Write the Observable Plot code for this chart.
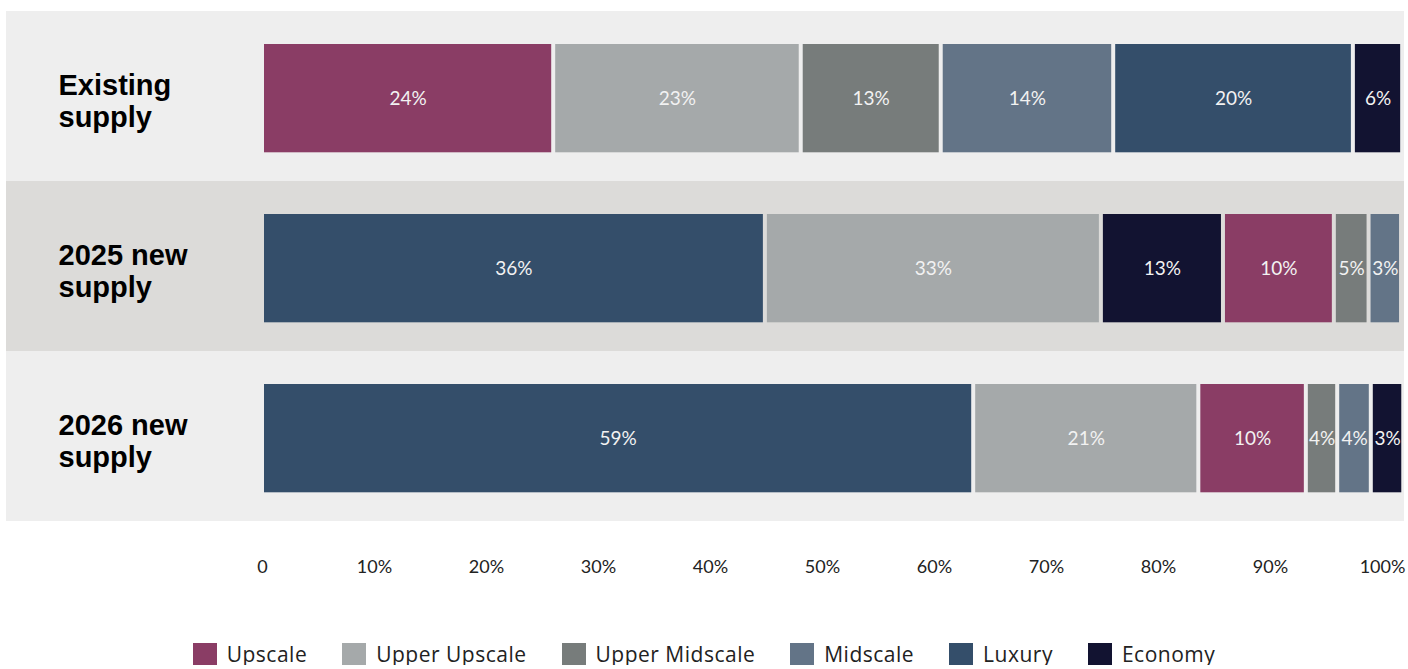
<!DOCTYPE html>
<html>
<head>
<meta charset="utf-8">
<script src="https://cdn.jsdelivr.net/npm/d3@7"></script>
<script src="https://cdn.jsdelivr.net/npm/@observablehq/plot@0.6"></script>
<style>
  html, body { margin: 0; padding: 0; background: #ffffff; }
  body { font-family: Lato, "Open Sans", sans-serif; width: 1408px; }
  #legend { display: flex; justify-content: center; margin-top: 43px; }
  #legend .leg-swatches { font-family: "Open Sans", sans-serif !important; font-size: 21px !important; color: #222 !important; margin: 0 !important; min-height: 0 !important; letter-spacing: 0.5px; line-height: 1 !important; }
  #legend .leg-swatch { margin-right: 35px !important; line-height: 1 !important; }
  #legend .leg-swatch:last-child { margin-right: 0 !important; }
  #legend .leg-swatch > svg { margin-right: 10px !important; }
</style>
</head>
<body>
<div id="chart"></div>
<div id="legend"></div>
<script>
// ---- data ----
const categories = ["Upscale", "Upper Upscale", "Upper Midscale", "Midscale", "Luxury", "Economy"];
const categoryColors = ["#8a3d65", "#a5a9aa", "#777c7b", "#637487", "#344e6a", "#121331"];

const rows = ["Existing supply", "2025 new supply", "2026 new supply"];
const rowLabels = ["Existing\nsupply", "2025 new\nsupply", "2026 new\nsupply"];

const existingCats = ["Upscale", "Upper Upscale", "Upper Midscale", "Midscale", "Luxury", "Economy"];
const existingShare = [26.0, 22.1, 12.5, 15.4, 21.4, 4.4];
const existingLabel = [24, 23, 13, 14, 20, 6];

const new2025Cats = ["Luxury", "Upper Upscale", "Economy", "Upscale", "Upper Midscale", "Midscale"];
const new2025Share = [44.9, 30.0, 10.9, 9.9, 3.1, 2.9];
const new2025Label = [36, 33, 13, 10, 5, 3];

const new2026Cats = ["Luxury", "Upper Upscale", "Upscale", "Upper Midscale", "Midscale", "Economy"];
const new2026Share = [63.5, 20.1, 9.6, 2.8, 3.0, 2.9];
const new2026Label = [59, 21, 10, 4, 4, 3];

const tickValues = [0, 10, 20, 30, 40, 50, 60, 70, 80, 90, 100];

// ---- table ----
const data = [];
function addRow(row, cats, shares, labels) {
  cats.forEach((c, i) => data.push({row, category: c, share: shares[i], label: labels[i] + "%"}));
}
addRow(rows[0], existingCats, existingShare, existingLabel);
addRow(rows[1], new2025Cats, new2025Share, new2025Label);
addRow(rows[2], new2026Cats, new2026Share, new2026Label);

const plot = Plot.plot({
  width: 1408,
  height: 600,
  marginLeft: 262,
  marginRight: 26,
  marginTop: 10,
  marginBottom: 78,
  style: {fontFamily: "Lato, sans-serif", background: "transparent", overflow: "visible"},
  x: {domain: [0, 100], axis: null},
  y: {domain: rows, padding: 0, axis: null},
  color: {domain: categories, range: categoryColors},
  marks: [
    Plot.cell([rows[0], rows[2]], {y: d => d, fill: "#eeeeee", insetLeft: -256, insetRight: -22}),
    Plot.cell([rows[1]], {y: d => d, fill: "#dcdbd9", insetLeft: -256, insetRight: -22}),
    Plot.barX(data, {y: "row", x: "share", fill: "category", insetLeft: 2, insetRight: 2, insetTop: 33, insetBottom: 28.7}),
    Plot.text(data, Plot.stackX({y: "row", x: "share", text: "label", fill: "#f2f2f2", fontSize: 19, dy: 2})),
    Plot.text(rows, {y: d => d, text: (d, i) => rowLabels[i], frameAnchor: "left", textAnchor: "start", dx: -204, dy: 4,
      fontSize: 29, fontWeight: 700, fill: "#000", lineHeight: 1.13, fontFamily: "'Liberation Sans', Arial, sans-serif"}),
    Plot.axisX({ticks: tickValues, tickFormat: d => d === 0 ? "0" : d + "%", tickSize: 0, tickPadding: 38, fontSize: 18, fill: "#222", label: null})
  ]
});
document.getElementById("chart").append(plot);

const legend = Plot.legend({
  color: {domain: categories, range: categoryColors},
  legend: "swatches",
  swatchWidth: 24,
  swatchHeight: 22,
  className: "leg"
});
document.getElementById("legend").append(legend);
</script>
</body>
</html>
